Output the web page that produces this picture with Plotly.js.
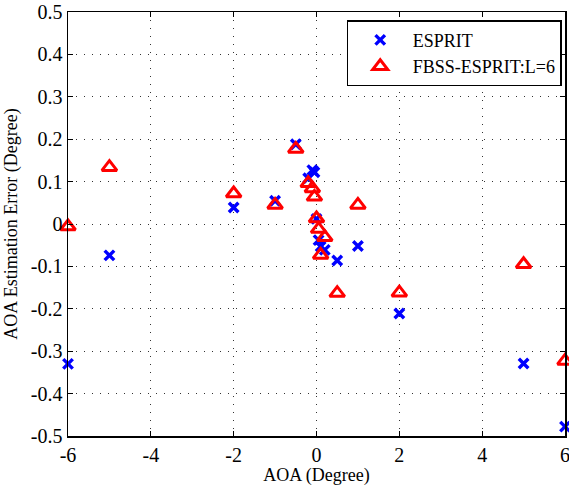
<!DOCTYPE html>
<html>
<head>
<meta charset="utf-8">
<script src="https://cdn.plot.ly/plotly-3.0.1.min.js"></script>
<style>html,body{margin:0;padding:0;background:#fff;}#chart{width:569px;height:486px;}</style>
</head>
<body>
<div id="chart"></div>
<script>
// ESPRIT estimates
const espritAOA = [-6, -5, -2, -1, -0.5, -0.2, -0.1, -0.05, 0, 0.05, 0.1, 0.2, 0.5, 1, 2, 5, 6];
const espritErr = [-0.33, -0.074, 0.039, 0.055, 0.188, 0.108, 0.127, 0.122, 0.012, -0.038, -0.053, -0.061, -0.086, -0.052, -0.211, -0.329, -0.478];
// FBSS-ESPRIT (L=6) estimates
const fbssAOA = [-6, -5, -2, -1, -0.5, -0.2, -0.1, -0.05, 0, 0.05, 0.1, 0.2, 0.5, 1, 2, 5, 6];
const fbssErr = [-0.006, 0.134, 0.072, 0.045, 0.177, 0.096, 0.084, 0.064, 0.013, -0.012, -0.073, -0.031, -0.163, 0.045, -0.162, -0.095, -0.323];

const seriesNames = ['ESPRIT', 'FBSS-ESPRIT:L=6'];
const xTicks = [-6, -4, -2, 0, 2, 4, 6];
const yTicks = [-0.5, -0.4, -0.3, -0.2, -0.1, 0, 0.1, 0.2, 0.3, 0.4, 0.5];
const yTickText = ['-0.5', '-0.4', '-0.3', '-0.2', '-0.1', '0', '0.1', '0.2', '0.3', '0.4', '0.5'];

const font = '"Liberation Serif", "Times New Roman", serif';

const traces = [
  {
    x: espritAOA, y: espritErr, name: seriesNames[0], type: 'scatter', mode: 'markers',
    marker: {symbol: 'x-thin-open', size: 9.5, color: '#0000ff', line: {color: '#0000ff', width: 3.4}},
    cliponaxis: false
  },
  {
    x: fbssAOA, y: fbssErr, name: seriesNames[1], type: 'scatter', mode: 'markers',
    marker: {symbol: 'triangle-up-open', size: 13, color: '#ff0000', line: {color: '#ff0000', width: 3}},
    cliponaxis: false
  }
];

function axisBase() {
  return {
    showline: true, linecolor: '#000', linewidth: 1.5, mirror: 'ticks',
    ticks: 'inside', ticklen: 5, tickcolor: '#000', tickwidth: 1,
    showgrid: true, gridcolor: '#333', griddash: '1px,7px', gridwidth: 1,
    zeroline: false, ticklabeloverflow: 'allow',
    tickfont: {family: font, size: 20, color: '#000'}
  };
}

const layout = {
  width: 569, height: 486,
  margin: {l: 67.5, r: 3.5, t: 12, b: 50},
  paper_bgcolor: '#fff', plot_bgcolor: '#fff',
  font: {family: font, size: 18, color: '#000'},
  xaxis: Object.assign(axisBase(), {
    range: [-6, 6], tickvals: xTicks, ticktext: xTicks.map(String),
    title: {text: 'AOA (Degree)', font: {family: font, size: 18, color: '#000'}, standoff: 0}
  }),
  yaxis: Object.assign(axisBase(), {
    range: [-0.5, 0.5], tickvals: yTicks, ticktext: yTickText,
    title: {text: 'AOA Estimation Error (Degree)', font: {family: font, size: 18, color: '#000'}, standoff: 8}
  }),
  showlegend: true,
  legend: {
    x: 0.993, y: 0.98, xanchor: 'right', yanchor: 'top',
    bordercolor: '#000', borderwidth: 1.2, bgcolor: '#fff',
    font: {family: font, size: 18, color: '#000'},
    itemwidth: 55, tracegroupgap: 0
  }
};

Plotly.newPlot('chart', traces, layout, {displayModeBar: false, staticPlot: true});
</script>
</body>
</html>
